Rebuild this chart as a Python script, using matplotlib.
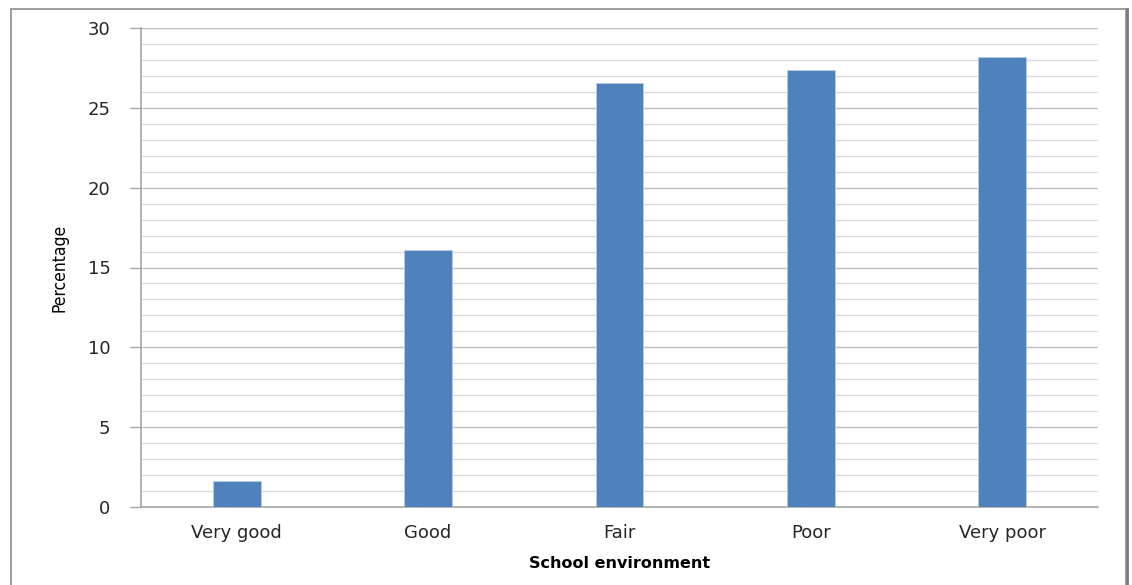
import matplotlib
matplotlib.use("Agg")
import matplotlib.pyplot as plt
from matplotlib.patches import Rectangle
from matplotlib.ticker import MultipleLocator

categories = ["Very good", "Good", "Fair", "Poor", "Very poor"]
percentages = [1.63, 16.1, 26.55, 27.4, 28.2]
y_ticks = [0, 5, 10, 15, 20, 25, 30]

W, H = 1132, 585
fig = plt.figure(figsize=(W / 100, H / 100), dpi=100)
fig.patch.set_facecolor("white")

# outer chart border
fig.add_artist(Rectangle((11 / W, -0.05), (1126 - 11) / W, 1.05 - 9 / H,
                         transform=fig.transFigure, fill=False,
                         edgecolor="#8c8c8c", linewidth=1.2))
fig.add_artist(plt.Line2D([1127 / W, 1127 / W], [0, 1 - 9 / H],
                          transform=fig.transFigure, color="#7a7a7a", linewidth=2))

left, right, top, bottom = 141, 1098, 28, 507
ax = fig.add_axes([left / W, 1 - bottom / H, (right - left) / W, (bottom - top) / H])

x = list(range(len(categories)))
ax.bar(x, percentages, width=0.25, color="#4f81bd", edgecolor="#b9cde5",
       linewidth=0.6, zorder=3)

ax.set_xlim(-0.5, len(categories) - 0.5)
ax.set_ylim(0, 30)
ax.set_yticks(y_ticks)
ax.yaxis.set_minor_locator(MultipleLocator(1))
ax.grid(axis="y", which="major", color="#bfbfbf", linewidth=1.0, zorder=0)
ax.grid(axis="y", which="minor", color="#d9d9d9", linewidth=1.0, zorder=0)

ax.set_xticks(x)
ax.set_xticklabels(categories, family="DejaVu Sans")
for t in ax.get_yticklabels():
    t.set_family("DejaVu Sans")
ax.tick_params(axis="x", length=0, pad=12, labelsize=13, labelcolor="#262626")
ax.tick_params(axis="y", which="major", length=8, width=1, color="#a6a6a6",
               pad=14, labelsize=13, labelcolor="#262626")
ax.tick_params(axis="y", which="minor", length=0)

for s in ["top", "right"]:
    ax.spines[s].set_visible(False)
for s in ["left", "bottom"]:
    ax.spines[s].set_color("#a6a6a6")
    ax.spines[s].set_linewidth(1.2)

ax.set_xlabel("School environment", fontsize=11.5, fontweight="bold",
              family="DejaVu Sans", labelpad=10)
ax.set_ylabel("Percentage", fontsize=12.5, fontstretch="condensed",
              family=["Liberation Sans Narrow", "DejaVu Sans"],
              labelpad=14)

fig.savefig("out.png", dpi=100, facecolor="white")
